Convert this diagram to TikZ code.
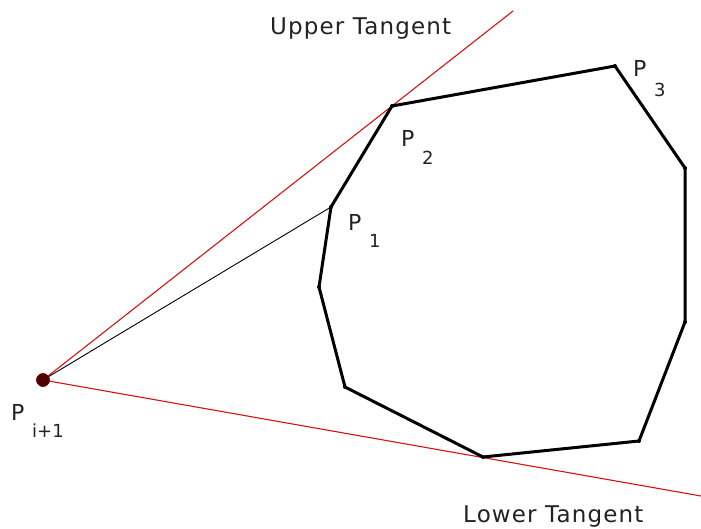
\documentclass[tikz,border=0pt]{standalone}
\usepackage{fontspec}
\setmainfont{DejaVu Sans}
\newfontfamily\tanfont[LetterSpace=5]{DejaVu Sans}
\usetikzlibrary{positioning}
\definecolor{tang}{HTML}{D41414}
\definecolor{ink}{HTML}{222222}
\tikzset{
  vtx/.style={circle, fill=black, inner sep=0pt, minimum size=4pt},
  apex/.style={circle, fill=black!70!red, draw=red!55!black, inner sep=0pt, minimum size=13pt},
  hull/.style={line width=3pt, line join=round},
  tanline/.style={tang, line width=1.1pt},
  chord/.style={black, line width=0.9pt},
  plbl/.style={anchor=base west, inner sep=0pt, text=ink, font=\fontsize{22}{22}\selectfont},
  tlbl/.style={anchor=base west, inner sep=0pt, text=ink, font=\tanfont\fontsize{23}{23}\selectfont},
}
\newcommand{\Plab}[2]{P\hspace{0.35em}\raisebox{-#2pt}{\fontsize{18}{18}\selectfont #1}}

\begin{document}
\begin{tikzpicture}[x=1pt, y=-1pt]
  \useasboundingbox (0,0) rectangle (701,529);
  % hull vertices
  \coordinate (p1) at (331,207);
  \coordinate (p2) at (392,106);
  \coordinate (p3) at (615,66);
  \coordinate (h4) at (685,168);
  \coordinate (h5) at (685,322);
  \coordinate (h6) at (639,441);
  \coordinate (h7) at (483,457);
  \coordinate (h8) at (345,387);
  \coordinate (h9) at (319,287);
  \coordinate (ut) at (513,11);
  \coordinate (lt) at (701,496);
  \node[apex] (pi) at (43,380) {};
  % tangents and chord
  \draw[tanline] (pi.center) -- (ut);
  \draw[tanline] (pi.center) -- (lt);
  \draw[chord] (pi.center) -- (p1);
  \draw[hull] (p1) -- (p2) -- (p3) -- (h4) -- (h5) -- (h6) -- (h7) -- (h8) -- (h9) -- cycle;
  \foreach \v in {p1,p2,p3,h4,h5,h6,h7,h8,h9} \node[vtx] at (\v) {};
  \node[apex] at (pi) {};
  % labels
  \node[plbl] (l1) at (348,231) {\Plab{1}{17}};
  \node[plbl] (l2) at (401,147) {\Plab{2}{18}};
  \node[plbl] (l3) at (633,77) {\Plab{3}{20}};
  \node[plbl] (li) at (11,420) {\Plab{i+1}{17}};
  \node[tlbl] (up) at (270,35) {Upper Tangent};
  \node[tlbl] (lo) at (463,522) {Lower Tangent};
\end{tikzpicture}
\end{document}
